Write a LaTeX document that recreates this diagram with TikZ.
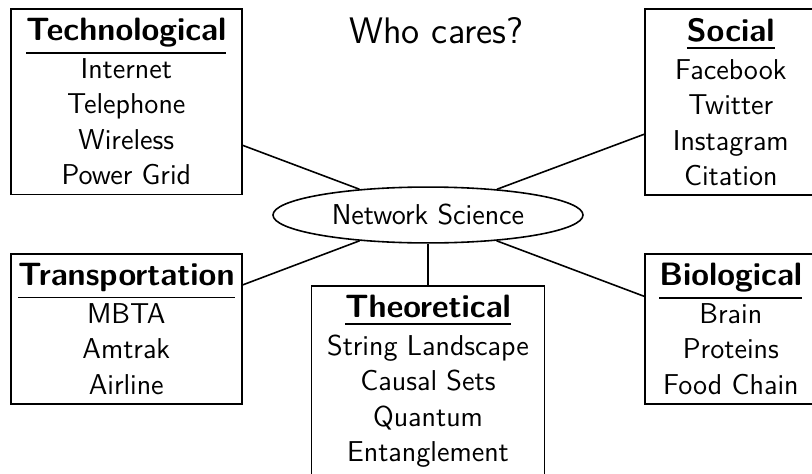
\documentclass[tikz,border=0pt]{standalone}
\usetikzlibrary{shapes.geometric}
\newcommand{\heading}[1]{{\fontsize{12.6}{13.8}\selectfont\setbox0\hbox{\textbf{#1}}\rlap{\rule[\dimexpr-\dp0-2.6pt\relax]{\wd0}{0.55pt}}\box0}}
\begin{document}
\begin{tikzpicture}[x=0.39pt,y=-0.39pt,font=\sffamily\fontsize{11.2}{13.8}\selectfont,
  topic/.style={draw,line width=0.62pt,align=center,inner xsep=0pt,inner ysep=3.65pt,anchor=north west},
  hub/.style={draw,ellipse,line width=0.62pt,inner sep=0pt,minimum width=120.9pt,minimum height=21.8pt}]
\useasboundingbox (0,0) rectangle (812,474);
\node[font=\sffamily\fontsize{14.4}{18}\selectfont,anchor=base] (title) at (436.5,43) {Who cares?};
\node[hub] (ns) at (428,215) {Network Science};
% the five kinds of networks
\node[topic,minimum width=90.1pt] (tech) at (10,8) {\heading{Technological}\\[1pt] Internet\\ Telephone\\ Wireless\\ Power Grid};
\node[topic,minimum width=67.1pt] (soc) at (644,8) {\heading{Social}\\[1pt] Facebook\\ Twitter\\ Instagram\\ Citation};
\node[topic,minimum width=90.1pt] (trans) at (10,253) {\heading{Transportation}\\[1pt] MBTA\\ Amtrak\\ Airline};
\node[topic,minimum width=67.1pt] (bio) at (644,253) {\heading{Biological}\\[1pt] Brain\\ Proteins\\ Food Chain};
\node[topic,minimum width=90.9pt,anchor=north] (theo) at (428,285) {\heading{Theoretical}\\[1pt] String Landscape\\ Causal Sets\\ Quantum\\ Entanglement};
% links to the hub
\draw[line width=0.62pt] (tech) -- (ns);
\draw[line width=0.62pt] (soc) -- (ns);
\draw[line width=0.62pt] (trans) -- (ns);
\draw[line width=0.62pt] (bio) -- (ns);
\draw[line width=0.62pt] (theo) -- (ns);
\end{tikzpicture}
\end{document}
